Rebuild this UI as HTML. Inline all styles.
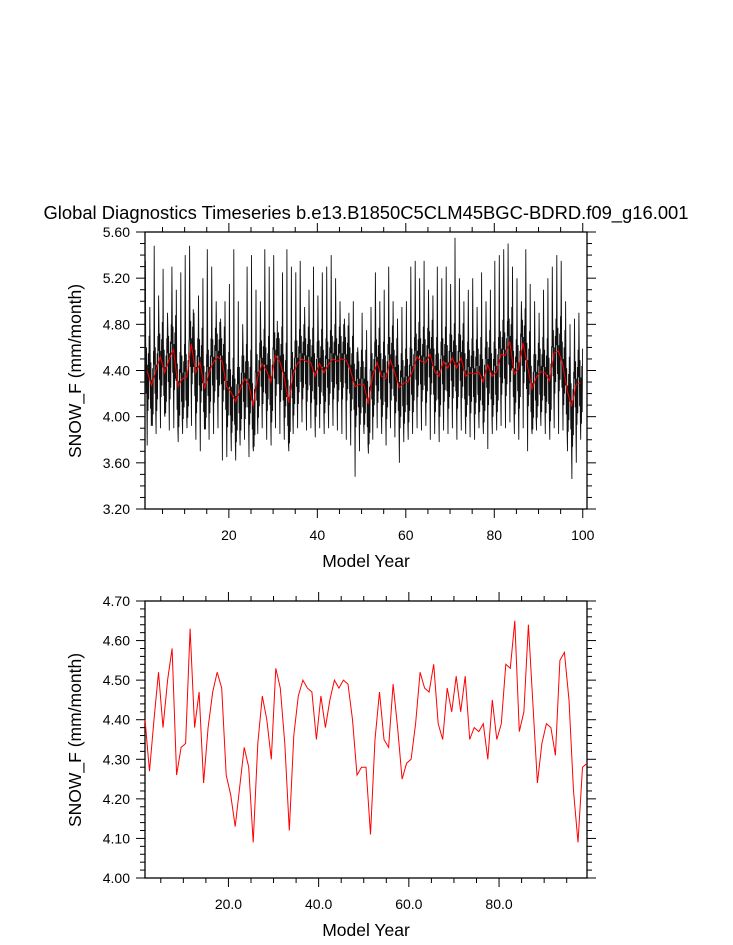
<!DOCTYPE html>
<html><head><meta charset="utf-8"><style>
body{margin:0;background:#fff}
svg{display:block;font-family:"Liberation Sans",Arial,sans-serif}
</style></head><body>
<svg id="chart" width="733" height="945" viewBox="0 0 733 945" xmlns="http://www.w3.org/2000/svg">
<text x="366" y="219" font-size="18.4" text-anchor="middle">Global Diagnostics Timeseries b.e13.B1850C5CLM45BGC-BDRD.f09_g16.001</text>
<g id="top"></g>
<g id="bot"></g>
<text x="366" y="567" font-size="17.5" text-anchor="middle">Model Year</text>
<text x="366" y="936" font-size="17.5" text-anchor="middle">Model Year</text>
<text transform="translate(81,371) rotate(-90)" font-size="17.5" text-anchor="middle">SNOW_F (mm/month)</text>
<text transform="translate(81,740) rotate(-90)" font-size="17.5" text-anchor="middle">SNOW_F (mm/month)</text>
</svg>
<script>
const annual = [4.40,4.27,4.40,4.52,4.38,4.50,4.58,4.26,4.33,4.34,4.63,4.38,4.47,4.24,4.38,4.47,4.52,4.48,4.26,4.21,4.13,4.23,4.33,4.28,4.09,4.34,4.46,4.40,4.30,4.53,4.48,4.34,4.12,4.36,4.46,4.50,4.48,4.47,4.35,4.46,4.38,4.45,4.50,4.48,4.50,4.49,4.40,4.26,4.28,4.28,4.11,4.35,4.47,4.35,4.33,4.49,4.38,4.25,4.29,4.30,4.39,4.52,4.48,4.47,4.54,4.39,4.35,4.48,4.42,4.51,4.42,4.51,4.35,4.38,4.37,4.39,4.30,4.45,4.35,4.39,4.54,4.53,4.65,4.37,4.42,4.64,4.44,4.24,4.34,4.39,4.38,4.31,4.55,4.57,4.45,4.22,4.09,4.28,4.29];
const peaks = [5.35,4.95,5.48,5.05,5.28,4.9,5.3,5.1,5.25,5.4,5.48,4.9,5.05,5.2,5.45,5.3,5.0,4.85,5.0,5.15,5.45,5.0,4.8,5.3,5.4,5.1,5.0,5.45,5.3,5.4,4.7,5.25,5.45,5.3,5.25,5.35,4.95,5.1,5.3,5.05,5.25,5.3,5.4,5.2,5.0,4.85,4.9,5.0,4.6,4.9,4.75,4.95,5.25,5.0,5.1,5.3,5.0,4.85,4.95,5.0,5.3,5.35,5.2,5.35,5.1,5.05,5.3,5.2,5.3,5.15,5.55,5.2,5.0,5.1,5.2,4.95,5.25,5.0,5.1,5.35,5.4,5.45,5.5,5.3,5.2,5.0,5.45,5.15,5.0,4.9,5.1,5.2,5.3,5.4,5.35,5.0,4.8,4.85,4.9];
const troughs = [3.75,3.95,3.85,3.9,4.0,3.88,3.9,3.78,3.85,3.9,3.92,3.8,3.7,3.9,3.8,3.85,3.9,3.62,3.65,3.7,3.62,3.75,3.8,3.65,3.7,3.85,3.9,3.8,3.75,3.9,3.85,3.8,3.7,3.85,3.9,3.95,3.88,3.9,3.82,3.9,3.85,3.9,3.92,3.88,3.85,3.8,3.75,3.48,3.7,3.85,3.68,3.8,3.9,3.85,3.75,3.9,3.82,3.6,3.78,3.8,3.85,3.9,3.88,3.92,3.8,3.85,3.78,3.88,3.85,3.9,3.8,3.88,3.85,3.82,3.8,3.9,3.85,3.72,3.85,3.88,3.92,3.9,3.95,3.85,3.8,3.9,3.7,3.85,3.88,3.92,3.85,3.8,3.9,3.85,3.88,3.7,3.46,3.6,3.8];
const clim = [0.05,0.8,0.25,-0.2,0.2,-0.35,-0.5,0.05,-0.35,0.15,-0.25,0.3];
const topYTicks = ["3.20","3.60","4.00","4.40","4.80","5.20","5.60"];
const topXTicks = ["20","40","60","80","100"];
const botYTicks = ["4.00","4.10","4.20","4.30","4.40","4.50","4.60","4.70"];
const botXTicks = ["20.0","40.0","60.0","80.0"];

const NS="http://www.w3.org/2000/svg";
function mk(parent,tag,attrs){const e=document.createElementNS(NS,tag);for(const k in attrs)e.setAttribute(k,attrs[k]);parent.appendChild(e);return e;}

function panel(g, box, xr, yr, xMajor, xMinor, yMajor, yMinor, xLabels, yLabels){
  const sx=v=>box.l+(v-xr[0])/(xr[1]-xr[0])*(box.r-box.l);
  const sy=v=>box.b-(v-yr[0])/(yr[1]-yr[0])*(box.b-box.t);
  const fr=mk(g,'rect',{x:box.l,y:box.t,width:box.r-box.l,height:box.b-box.t,fill:'none',stroke:'#000','stroke-width':1.3});
  
  
  const ticks=mk(g,'g',{stroke:'#000','stroke-width':1});
  
  
  for(let v=Math.ceil(xr[0]/xMinor)*xMinor; v<=xr[1]+1e-9; v+=xMinor){
    const maj=Math.abs(v/xMajor-Math.round(v/xMajor))<1e-6, L=maj?9:5, x=sx(v);
    mk(ticks,'line',{x1:x,x2:x,y1:box.b,y2:box.b+L});
    mk(ticks,'line',{x1:x,x2:x,y1:box.t,y2:box.t-L});
  }
  for(let v=yr[0]; v<=yr[1]+1e-9; v+=yMinor){
    const maj=Math.abs((v-yr[0])/yMajor-Math.round((v-yr[0])/yMajor))<1e-6, L=maj?9:5, y=sy(v);
    mk(ticks,'line',{x1:box.l,x2:box.l-L,y1:y,y2:y});
    mk(ticks,'line',{x1:box.r,x2:box.r+L,y1:y,y2:y});
  }
  xLabels.forEach(s=>{const t=mk(g,'text',{x:sx(parseFloat(s)),y:box.b+31,'font-size':14,'text-anchor':'middle'});t.textContent=s;
    
    });
  yLabels.forEach(s=>{const t=mk(g,'text',{x:box.l-15,y:sy(parseFloat(s))+5,'font-size':14,'text-anchor':'end'});t.textContent=s;
    
    });
  return {sx,sy};
}

// Top panel
const gt=document.getElementById('top');
const T=panel(gt,{l:145,r:587,t:232,b:509},[1.04,100.96],[3.2,5.6],20,5,0.4,0.1,topXTicks,topYTicks);
let pts=[];
annual.forEach((a,y)=>{for(let m=0;m<12;m++){
  let v=a+clim[m];
  if(m===1) v=(peaks[y]!==undefined?peaks[y]:5.1);
  if(m===6) v=(troughs[y]!==undefined?troughs[y]:3.85);
  pts.push(T.sx(1+y+(m+0.5)/12).toFixed(1)+','+T.sy(v).toFixed(1));}});
const ml=mk(gt,'polyline',{points:pts.join(' '),fill:'none',stroke:'#111','stroke-width':0.9});


const ar=mk(gt,'polyline',{points:annual.map((v,i)=>T.sx(i+1.5).toFixed(1)+','+T.sy(v).toFixed(1)).join(' '),fill:'none',stroke:'#f00','stroke-width':1});



// Bottom panel
const gb=document.getElementById('bot');
const B=panel(gb,{l:145,r:587,t:601,b:878},[1.5,99.5],[4.0,4.7],20,5,0.1,0.02,botXTicks,botYTicks);
const br=mk(gb,'polyline',{points:annual.map((v,i)=>B.sx(i+1.5).toFixed(1)+','+B.sy(v).toFixed(1)).join(' '),fill:'none',stroke:'#f00','stroke-width':1});


</script>
</body></html>
